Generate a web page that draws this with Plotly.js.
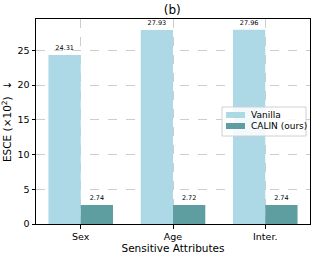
<!DOCTYPE html>
<html><head><meta charset="utf-8">
<script src="https://cdn.plot.ly/plotly-3.0.1.min.js"></script>
<style>html,body{margin:0;padding:0;background:#fff;overflow:hidden}#c{width:316px;height:257px}</style>
</head><body><div id="c"></div>
<script>
const categories = ["Sex", "Age", "Inter."];
const vanilla = [24.31, 27.93, 27.96];
const calin = [2.74, 2.72, 2.74];
const seriesNames = ["Vanilla", "CALIN (ours)"];
const seriesColors = ["#add8e6", "#5f9ea0"];
const yTicks = [0, 5, 10, 15, 20, 25];

const font = "DejaVu Sans, sans-serif";
const traces = [vanilla, calin].map((vals, i) => ({
  type: "bar", x: categories, y: vals, name: seriesNames[i], showlegend: false,
  marker: {color: seriesColors[i]}, text: vals.map(v => v.toFixed(2)),
  textposition: "outside", textfont: {size: 6.5, color: "#000", family: font}, cliponaxis: false
}));

const L = 36, R = 310, T = 19, B = 224;
const px = v => (v - L) / (R - L);
const py = v => (B - v) / (B - T);
const shapes = [
  {type: "rect", xref: "paper", yref: "paper", x0: px(222), x1: px(306), y0: py(136), y1: py(107),
   fillcolor: "rgba(255,255,255,0.85)", line: {color: "#d0d0d0", width: 1}},
  {type: "rect", xref: "paper", yref: "paper", x0: px(226), x1: px(245), y0: py(118), y1: py(112),
   fillcolor: seriesColors[0], line: {width: 0}},
  {type: "rect", xref: "paper", yref: "paper", x0: px(226), x1: px(245), y0: py(129), y1: py(123),
   fillcolor: seriesColors[1], line: {width: 0}}
];
const annotations = seriesNames.map((n, i) => ({
  xref: "paper", yref: "paper", x: px(249), y: py(i === 0 ? 115 : 126), xanchor: "left", yanchor: "middle",
  text: n, showarrow: false, font: {size: 9, family: font, color: "#000"}
}));

const layout = {
  width: 316, height: 257,
  margin: {l: L, r: 316 - R, t: T, b: 257 - B, pad: 0, autoexpand: false},
  paper_bgcolor: "#fff", plot_bgcolor: "#fff",
  font: {family: font, size: 9.5, color: "#000"},
  title: {text: "(b)", font: {size: 12, family: font}, x: 0.545, xanchor: "center", y: 0.962, yanchor: "middle"},
  barmode: "group", bargap: 0.3, bargroupgap: 0,
  showlegend: false,
  shapes: shapes, annotations: annotations,
  xaxis: {range: [-0.485, 2.485], showline: true, linecolor: "#000", linewidth: 1, mirror: true,
          ticks: "outside", ticklen: 3.5, tickcolor: "#000", automargin: false,
          showgrid: true, gridcolor: "#c0c0c0", griddash: "dash", gridwidth: 0.8,
          tickfont: {size: 9.5}, title: {text: "Sensitive Attributes", font: {size: 10.5}, standoff: 3}},
  yaxis: {range: [0, 29.5], tickvals: yTicks, showline: true, linecolor: "#000", linewidth: 1, mirror: true,
          ticks: "outside", ticklen: 3.5, tickcolor: "#000", zeroline: false, automargin: false,
          showgrid: true, gridcolor: "#c0c0c0", griddash: "dash", gridwidth: 0.8,
          tickfont: {size: 9.5}, title: {text: "ESCE (×10<sup>2</sup>)  ↓", font: {size: 10.5}, standoff: 6}}
};
Plotly.newPlot("c", traces, layout, {displayModeBar: false, staticPlot: true});
</script></body></html>
